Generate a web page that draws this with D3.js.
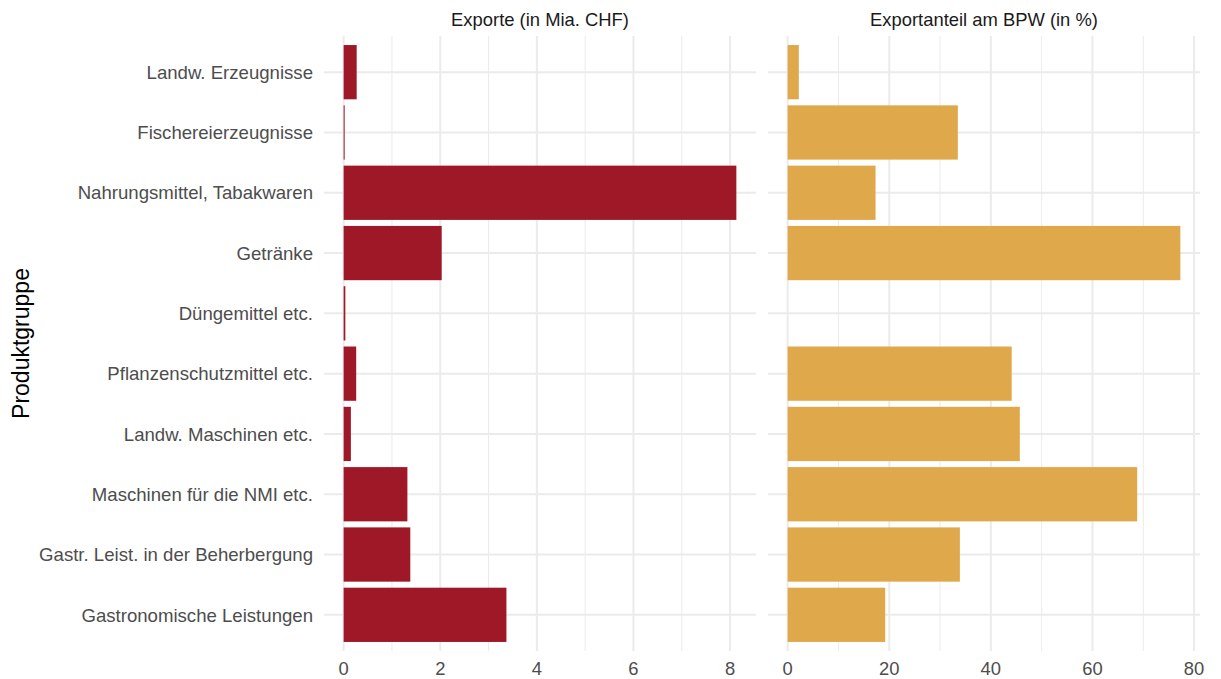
<!DOCTYPE html>
<html><head><meta charset="utf-8">
<script src="https://cdn.jsdelivr.net/npm/d3@7"></script>
<style>body{margin:0;background:#fff}svg{display:block}text{font-family:"Liberation Sans",Arial,sans-serif}</style>
</head><body><svg id="c" width="1221" height="679"></svg>
<script>
const categories = ["Landw. Erzeugnisse","Fischereierzeugnisse","Nahrungsmittel, Tabakwaren","Getränke","Düngemittel etc.","Pflanzenschutzmittel etc.","Landw. Maschinen etc.","Maschinen für die NMI etc.","Gastr. Leist. in der Beherbergung","Gastronomische Leistungen"];
const exporte = [0.27, 0.02, 8.13, 2.03, 0.035, 0.26, 0.15, 1.32, 1.38, 3.37];
const anteil = [2.2, 33.5, 17.3, 77.3, null, 44.1, 45.7, 68.8, 33.9, 19.2];
const panelTitles = ["Exporte (in Mia. CHF)", "Exportanteil am BPW (in %)"];
const ticksLeft = [0,2,4,6,8], minorLeft = [1,3,5,7];
const ticksRight = [0,20,40,60,80], minorRight = [10,30,50,70];
const colors = ["#9E1828", "#DFA84A"];

(function(){
const svg = d3.select("#c");
const yTop = 36, yBot = 651;
// ggplot discrete expansion: 0.6 units each side, bar width 0.9
const y = d3.scalePoint().domain(categories).range([yTop, yBot]).padding(0.6);
const step = y.step();
const bh = step * 0.9;

const panels = [
  {x0: 324, x1: 756, vals: exporte, max: d3.max(exporte), ticks: ticksLeft, minor: minorLeft, color: colors[0], title: panelTitles[0]},
  {x0: 768, x1: 1200, vals: anteil, max: d3.max(anteil.filter(v => v != null)), ticks: ticksRight, minor: minorRight, color: colors[1], title: panelTitles[1]}
];

panels.forEach(p => {
  const e = p.max * 0.05;
  const x = d3.scaleLinear().domain([-e, p.max + e]).range([p.x0, p.x1]);
  const g = svg.append("g");
  g.selectAll(".mn").data(p.minor).join("line")
    .attr("x1", d => x(d)).attr("x2", d => x(d)).attr("y1", yTop).attr("y2", yBot)
    .attr("stroke", "#EBEBEB").attr("stroke-width", 1);
  g.selectAll(".mj").data(p.ticks).join("line")
    .attr("x1", d => x(d)).attr("x2", d => x(d)).attr("y1", yTop).attr("y2", yBot)
    .attr("stroke", "#EBEBEB").attr("stroke-width", 2);
  g.selectAll(".hg").data(categories).join("line")
    .attr("x1", p.x0).attr("x2", p.x1).attr("y1", d => y(d)).attr("y2", d => y(d))
    .attr("stroke", "#EBEBEB").attr("stroke-width", 2);
  const data = categories.map((c, i) => ({c, v: p.vals[i]})).filter(d => d.v != null);
  g.selectAll(".bar").data(data).join("rect")
    .attr("x", x(0)).attr("width", d => Math.max(1, x(d.v) - x(0)))
    .attr("y", d => y(d.c) - bh / 2).attr("height", bh)
    .attr("fill", p.color);
  g.selectAll(".tl").data(p.ticks).join("text")
    .attr("x", d => x(d)).attr("y", 675).attr("text-anchor", "middle")
    .attr("font-size", 18.4).attr("fill", "#4D4D4D").text(d => d);
  g.append("text").attr("x", (p.x0 + p.x1) / 2).attr("y", 26).attr("text-anchor", "middle")
    .attr("font-size", 18.4).attr("fill", "#1A1A1A").text(p.title);
});

svg.selectAll(".yl").data(categories).join("text")
  .attr("x", 313).attr("y", d => y(d)).attr("dy", "0.36em").attr("text-anchor", "end")
  .attr("font-size", 18.6).attr("fill", "#4D4D4D").text(d => d);

svg.append("text").attr("transform", `translate(29,${(yTop + yBot) / 2}) rotate(-90)`)
  .attr("text-anchor", "middle").attr("font-size", 23).attr("fill", "#000").text("Produktgruppe");
})();
</script></body></html>
